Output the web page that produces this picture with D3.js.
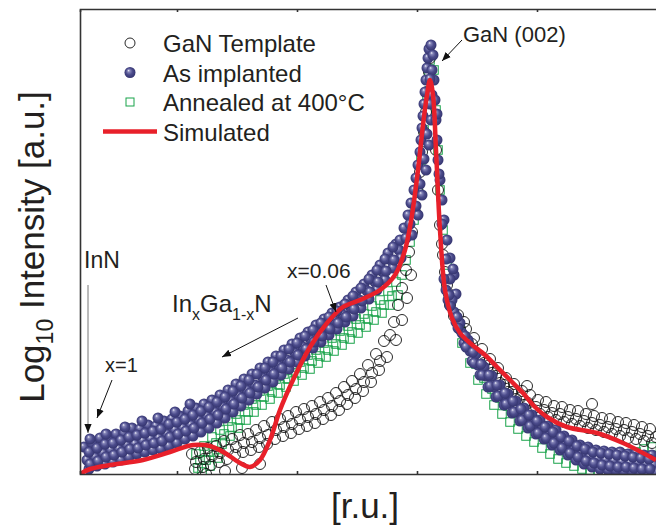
<!DOCTYPE html>
<html>
<head>
<meta charset="utf-8">
<script src="https://cdn.jsdelivr.net/npm/d3@7/dist/d3.min.js"></script>
<style>
	body { margin:0; background:#fff; }
	svg { display:block; font-family:"Liberation Sans", Arial, sans-serif; }
</style>
</head>
<body>
<div id="chart"></div>
<script>

// values: x in r.u., y in log10 intensity (a.u.)
const gaNTemplate = [
	[1.12,.20],[1.15,.05],[1.20,.22],[1.23,.07],[1.28,.26],[1.31,.09],[1.36,.28],[1.39,.12],
	[1.44,.33],[1.47,.15],[1.52,.35],[1.55,.19],[1.60,.39],[1.63,.22],[1.68,.40],[1.71,.24],
	[1.76,.44],[1.79,.27],[1.84,.48],[1.87,.30],[1.92,.52],[1.95,.35],[2.00,.55],[2.03,.38],
	[2.08,.58],[2.11,.41],[2.16,.62],[2.19,.45],[2.24,.65],[2.27,.48],[2.32,.68],[2.35,.51],
	[2.40,.72],[2.43,.55],[2.48,.76],[2.51,.59],[2.56,.81],[2.59,.64],[2.64,.87],[2.67,.70],
	[2.72,.93],[2.75,.76],[2.80,1.00],[2.83,.83],[2.88,1.09],[2.91,.92],[2.96,1.20],[2.99,1.04],
	[3.04,1.33],[3.07,1.17],[3.10,1.39],[3.14,1.52],[3.18,1.69],[3.22,1.86],[3.26,2.04],
	[3.29,2.22],[3.32,2.42],[3.35,2.62],[3.38,2.82],[3.40,3.02],[3.42,3.22],[3.44,3.42],
	[3.46,3.62],[3.47,3.82],[3.49,4.02],[3.50,4.16],[3.16,1.34],[3.22,1.54],[3.27,1.76],[3.31,1.99],
	[1.16,.12],[1.24,.15],[1.32,.18],[1.40,.21],[1.48,.24],[1.56,.27],[1.64,.31],[1.72,.32],
	[1.80,.36],[1.88,.39],[1.96,.44],[2.04,.47],[2.12,.50],[2.20,.54],[2.28,.57],[2.36,.60],
	[2.44,.64],[2.52,.68],[2.60,.73],[2.68,.79],[2.76,.85],[2.84,.92],[2.92,1.01],[3.00,1.13],
	[1.26,.00],[1.45,.03],[1.62,.06],[1.80,.10],
	[3.56,3.24],[3.58,2.84],[3.60,2.49],[3.63,2.19],[3.67,1.89],[3.70,1.69],
	[3.62,2.30],[3.65,2.02],[3.69,1.80],[3.74,1.58],
	[3.78,1.59],[3.80,1.45],[3.86,1.45],[3.88,1.31],[3.94,1.36],[3.96,1.21],[4.02,1.25],[4.04,1.11],
	[4.10,1.15],[4.12,1.01],[4.18,1.06],[4.20,.91],[4.26,.96],[4.28,.82],[4.34,.90],[4.36,.75],
	[4.42,.83],[4.44,.69],[4.47,.88],[4.50,.79],[4.52,.64],[4.58,.74],[4.60,.60],[4.66,.72],[4.68,.57],
	[4.74,.68],[4.76,.54],[4.82,.67],[4.84,.52],[4.90,.64],[4.92,.50],[4.98,.63],[5.00,.48],
	[5.06,.60],[5.08,.46],[5.12,.70],[5.14,.58],[5.16,.44],[5.22,.56],[5.24,.42],[5.30,.55],[5.32,.40],
	[5.38,.52],[5.40,.38],[5.46,.51],[5.48,.36],[5.54,.49],[5.56,.35],[5.62,.47],[5.64,.33],
	[5.70,.45],[5.72,.31],
	[3.84,1.52],[3.92,1.30],[4.00,1.18],[4.08,1.08],[4.16,.98],[4.24,.89],[4.32,.82],[4.40,.76],
	[4.48,.71],[4.56,.67],[4.64,.64],[4.72,.61],[4.80,.60],[4.88,.57],[4.96,.55],[5.04,.53],
	[5.12,.51],[5.20,.49],[5.28,.47],[5.36,.45],[5.44,.44],[5.52,.42],[5.60,.40],[5.68,.38],[5.76,.37]
];

const asImplanted = [
	[.04,.27],[.07,.14],[.09,.05],[.12,.31],[.15,.17],[.17,.08],[.20,.36],[.23,.21],[.25,.10],
	[.28,.35],[.31,.24],[.33,.12],[.36,.40],[.39,.25],[.41,.14],[.44,.41],[.47,.29],[.49,.17],
	[.52,.46],[.55,.30],[.57,.20],[.60,.45],[.63,.33],[.65,.22],[.68,.49],[.71,.35],[.73,.24],
	[.76,.48],[.79,.36],[.81,.25],[.84,.53],[.87,.40],[.89,.28],[.92,.55],[.95,.44],[.97,.31],
	[1.00,.58],[1.03,.46],[1.05,.35],[1.08,.63],[1.11,.49],[1.13,.38],[1.16,.66],[1.19,.54],[1.21,.42],
	[1.24,.70],[1.27,.58],[1.29,.46],[1.32,.74],[1.35,.62],[1.37,.51],[1.40,.79],[1.43,.67],[1.45,.56],
	[1.48,.84],[1.51,.73],[1.53,.62],[1.56,.90],[1.59,.78],[1.61,.68],[1.64,.95],[1.67,.84],[1.69,.74],
	[1.72,1.00],[1.75,.89],[1.77,.80],[1.80,1.06],[1.83,.96],[1.85,.86],[1.88,1.12],[1.91,1.02],[1.93,.92],
	[1.96,1.18],[1.99,1.08],[2.01,.99],[2.04,1.24],[2.07,1.14],[2.09,1.05],[2.12,1.30],[2.15,1.21],[2.17,1.12],
	[2.20,1.36],[2.23,1.27],[2.25,1.18],[2.28,1.42],[2.31,1.34],[2.33,1.26],[2.36,1.49],[2.39,1.40],[2.41,1.32],
	[2.44,1.55],[2.47,1.47],[2.49,1.39],[2.52,1.61],[2.55,1.53],[2.57,1.45],[2.60,1.67],[2.63,1.59],[2.65,1.52],
	[2.68,1.74],[2.71,1.66],[2.73,1.58],[2.76,1.82],[2.79,1.74],[2.81,1.66],[2.84,1.90],[2.87,1.83],[2.89,1.75],
	[2.92,1.99],[2.95,1.92],[2.97,1.84],[3.00,2.09],[3.03,2.02],[3.05,1.94],[3.08,2.21],[3.11,2.14],[3.13,2.06],
	[3.16,2.30],[3.19,2.24],[3.21,2.16],
	[.09,.22],[.10,.10],[.17,.26],[.18,.13],[.25,.30],[.26,.17],[.33,.31],[.34,.19],[.41,.34],[.42,.22],
	[.49,.37],[.50,.25],[.57,.39],[.58,.26],[.65,.41],[.66,.29],[.73,.43],[.74,.31],[.81,.45],[.82,.33],
	[.89,.50],[.90,.37],[.97,.52],[.98,.40],[1.05,.55],[1.06,.43],[1.13,.59],[1.14,.46],[1.21,.63],[1.22,.51],
	[1.29,.67],[1.30,.55],[1.37,.72],[1.38,.59],[1.45,.77],[1.46,.65],[1.53,.83],[1.54,.70],[1.61,.88],[1.62,.76],
	[1.69,.94],[1.70,.81],[1.77,1.00],[1.78,.87],[1.85,1.06],[1.86,.94],[1.93,1.12],[1.94,1.00],[2.01,1.18],[2.02,1.06],
	[2.09,1.25],[2.10,1.12],[2.17,1.31],[2.18,1.19],[2.25,1.38],[2.26,1.25],[2.33,1.44],[2.34,1.32],[2.41,1.51],[2.42,1.38],
	[2.49,1.57],[2.50,1.45],[2.57,1.63],[2.58,1.51],[2.65,1.70],[2.66,1.57],[2.73,1.78],[2.74,1.65],[2.81,1.86],[2.82,1.73],
	[2.89,1.95],[2.90,1.82],[2.97,2.04],[2.98,1.92],[3.05,2.15],[3.06,2.03],[3.13,2.27],[3.14,2.14],
	[.10,.35],[.26,.40],[.45,.47],[.62,.53],[.78,.56],[.95,.62],[1.10,.70],
	[3.20,2.34],[3.24,2.46],[3.28,2.59],[3.31,2.71],[3.34,2.84],[3.36,2.96],[3.38,3.09],[3.40,3.22],
	[3.41,3.34],[3.42,3.46],[3.43,3.58],[3.44,3.70],[3.45,3.82],[3.46,3.94],[3.47,4.06],[3.48,4.16],
	[3.49,4.25],[3.51,4.29],[3.32,2.39],[3.38,2.59],[3.42,2.79],[3.46,3.04],[3.49,3.29],[3.51,3.54],
	[3.52,3.79],[3.52,4.04],[3.53,4.19],[3.54,3.94],[3.55,3.74],[3.56,3.54],[3.57,3.34],[3.58,3.14],
	[3.60,2.94],[3.62,2.74],[3.64,2.54],[3.67,2.34],[3.70,2.16],[3.74,1.99],
	[3.26,2.36],[3.30,2.50],[3.36,2.68],[3.40,2.90],[3.44,3.15],[3.47,3.40],[3.50,3.70],[3.50,3.95],
	[3.57,3.60],[3.59,3.00],[3.62,2.50],[3.66,2.15],[3.70,1.95],[3.76,1.80],[3.73,2.05],
	[3.64,1.95],[3.66,1.84],[3.68,1.74],[3.72,1.74],[3.74,1.62],[3.76,1.52],[3.80,1.51],[3.82,1.41],[3.84,1.31],
	[3.88,1.34],[3.90,1.23],[3.92,1.13],[3.96,1.20],[3.98,1.09],[4.00,.99],[4.04,1.07],[4.06,.98],[4.08,.87],
	[4.12,.98],[4.14,.87],[4.16,.77],[4.20,.89],[4.22,.78],[4.24,.69],[4.28,.80],[4.30,.71],[4.32,.61],
	[4.36,.73],[4.38,.62],[4.40,.53],[4.44,.66],[4.46,.55],[4.48,.46],[4.52,.59],[4.54,.50],[4.56,.40],
	[4.60,.54],[4.62,.43],[4.64,.35],[4.68,.48],[4.70,.39],[4.72,.29],[4.76,.44],[4.78,.33],[4.80,.24],
	[4.84,.38],[4.86,.29],[4.88,.19],[4.92,.34],[4.94,.24],[4.96,.14],[5.00,.29],[5.02,.20],[5.04,.10],
	[5.08,.27],[5.10,.17],[5.12,.07],[5.16,.24],[5.18,.15],[5.20,.05],[5.24,.23],[5.26,.14],[5.28,.04],
	[5.32,.22],[5.34,.13],[5.36,.04],[5.40,.22],[5.42,.12],[5.44,.03],[5.48,.20],[5.50,.11],[5.52,.03],
	[5.56,.21],[5.58,.11],[5.60,.02],[5.64,.19],[5.66,.10],[5.68,.02],[5.72,.19],[5.74,.09],[5.76,.02],
	[3.69,1.79],[3.70,1.68],[3.77,1.57],[3.78,1.46],[3.85,1.38],[3.86,1.27],[3.93,1.22],[3.94,1.11],
	[4.01,1.10],[4.02,.99],[4.09,.99],[4.10,.88],[4.17,.89],[4.18,.78],[4.25,.81],[4.26,.70],
	[4.33,.73],[4.34,.62],[4.41,.65],[4.42,.54],[4.49,.59],[4.50,.48],[4.57,.53],[4.58,.41],
	[4.65,.47],[4.66,.36],[4.73,.42],[4.74,.31],[4.81,.37],[4.82,.26],[4.89,.33],[4.90,.21],
	[4.97,.28],[4.98,.17],[5.05,.25],[5.06,.13],[5.13,.22],[5.14,.11],[5.21,.21],[5.22,.09],
	[5.29,.20],[5.30,.08],[5.37,.19],[5.38,.07],[5.45,.18],[5.46,.07],[5.53,.17],[5.54,.06],
	[5.61,.16],[5.62,.05],[5.69,.15],[5.70,.05]
];

const annealed = [
	[1.16,.20],[1.18,.06],[1.24,.28],[1.26,.14],[1.32,.37],[1.34,.22],[1.40,.44],[1.42,.30],
	[1.48,.53],[1.50,.38],[1.56,.60],[1.58,.46],[1.64,.69],[1.66,.54],[1.72,.75],[1.74,.62],
	[1.80,.83],[1.82,.69],[1.88,.88],[1.90,.75],[1.96,.95],[1.98,.81],[2.04,1.00],[2.06,.87],
	[2.12,1.07],[2.14,.93],[2.20,1.12],[2.22,.99],[2.28,1.19],[2.30,1.05],[2.36,1.24],[2.38,1.11],
	[2.44,1.31],[2.46,1.17],[2.52,1.36],[2.54,1.23],[2.60,1.43],[2.62,1.29],[2.68,1.48],[2.70,1.35],
	[2.76,1.55],[2.78,1.41],[2.84,1.60],[2.86,1.47],[2.92,1.68],[2.94,1.54],[3.00,1.74],[3.02,1.61],
	[3.08,1.83],[3.10,1.69],[3.16,1.92],[3.18,1.79],
	[1.20,.14],[1.28,.22],[1.36,.31],[1.44,.40],[1.52,.47],[1.60,.54],[1.68,.62],[1.76,.69],
	[1.84,.77],[1.92,.82],[2.00,.89],[2.08,.95],[2.16,1.01],[2.24,1.06],[2.32,1.13],[2.40,1.18],
	[2.48,1.24],[2.56,1.30],[2.64,1.36],[2.72,1.42],[2.80,1.49],[2.88,1.55],[2.96,1.62],[3.04,1.69],[3.12,1.78],
	[1.22,.02],[1.30,.08],[1.38,.16],
	[3.22,1.99],[3.26,2.14],[3.30,2.32],[3.34,2.54],[3.38,2.84],[3.41,3.14],[3.44,3.44],[3.47,3.74],
	[3.49,3.99],[3.50,4.14],[3.54,4.04],[3.56,3.64],[3.58,3.24],[3.60,2.84],[3.63,2.44],[3.67,2.09],[3.72,1.79],
	[3.80,1.47],[3.82,1.31],[3.88,1.27],[3.90,1.11],[3.96,1.10],[3.98,.94],[4.04,.96],[4.06,.80],
	[4.12,.85],[4.14,.69],[4.20,.76],[4.22,.60],[4.28,.68],[4.30,.52],[4.36,.61],[4.38,.45],
	[4.44,.54],[4.46,.38],[4.52,.48],[4.54,.32],[4.60,.42],[4.62,.26],[4.68,.36],[4.70,.20],
	[4.76,.31],[4.78,.15],[4.84,.27],[4.86,.11],[4.92,.24],[4.94,.08],[5.00,.21],[5.02,.05],
	[5.08,.19],[5.10,.04],[5.16,.18],[5.18,.03],[5.24,.17],[5.26,.03],[5.32,.17],[5.34,.03],
	[5.40,.18],[5.42,.04],[5.48,.20],[5.50,.06],[5.56,.22],[5.58,.08],[5.64,.25],[5.66,.10],
	[5.72,.27],[5.74,.12]
];

const simulated = [
	[0,0],[.10,.05],[.30,.09],[.63,.14],[.90,.22],[1.13,.29],[1.30,.28],[1.45,.21],[1.60,.11],
	[1.70,.07],[1.80,.14],[1.90,.34],[2.00,.64],[2.13,.94],[2.30,1.27],[2.47,1.51],[2.63,1.67],
	[2.80,1.74],[3.00,1.84],[3.15,1.99],[3.25,2.24],[3.32,2.59],[3.38,3.04],[3.43,3.49],[3.47,3.79],
	[3.50,3.94],[3.53,3.79],[3.56,3.24],[3.60,2.44],[3.65,1.84],[3.72,1.56],[3.80,1.41],[3.90,1.31],
	[4.05,1.19],[4.17,1.07],[4.30,.94],[4.43,.81],[4.55,.67],[4.67,.57],[4.87,.47],[5.17,.41],
	[5.43,.31],[5.76,.14]
];

const xTicks = [0.97, 2.17, 3.37, 4.57];
const legendLabels = ['GaN Template', 'As implanted', 'Annealed at 400°C', 'Simulated'];

const W = 656, H = 526;
const margin = {t:9, l:80};
const w = 578, h = 465;

const svg = d3.select('#chart').append('svg')
	.attr('width', W)
	.attr('height', H);

const defs = svg.append('defs');
const grad = defs.append('radialGradient')
	.attr('id', 'sphere')
	.attr('cx', '50%').attr('cy', '50%').attr('r', '55%')
	.attr('fx', '35%').attr('fy', '30%');
grad.append('stop').attr('offset', '0%').attr('stop-color', '#f2f2fa');
grad.append('stop').attr('offset', '22%').attr('stop-color', '#8585b8');
grad.append('stop').attr('offset', '55%').attr('stop-color', '#4c4c8c');
grad.append('stop').attr('offset', '100%').attr('stop-color', '#30306a');

defs.append('clipPath').attr('id', 'clip')
	.append('rect').attr('width', w).attr('height', h);

const plot = svg.append('g')
	.attr('transform', `translate(${margin.l},${margin.t})`);

const scaleX = d3.scaleLinear().domain([0, 5.78]).range([0, w]);
const scaleY = d3.scaleLinear().domain([0, 4.65]).range([h, 0]);

////////////////////////////////////////////////////////////////////

const data = plot.append('g').attr('clip-path', 'url(#clip)');

data.selectAll('.sq')
	.data(annealed)
	.enter().append('rect')
	.attr('class', 'sq')
	.attr('x', d => scaleX(d[0]) - 4.25)
	.attr('y', d => scaleY(d[1]) - 4.25)
	.attr('width', 8.5)
	.attr('height', 8.5)
	.attr('fill', 'none')
	.attr('stroke', '#19a34a')
	.attr('stroke-width', 1);

data.selectAll('.open')
	.data(gaNTemplate)
	.enter().append('circle')
	.attr('class', 'open')
	.attr('cx', d => scaleX(d[0]))
	.attr('cy', d => scaleY(d[1]))
	.attr('r', 5.5)
	.attr('fill', 'none')
	.attr('stroke', '#111')
	.attr('stroke-width', 0.9);

data.selectAll('.ball')
	.data(asImplanted)
	.enter().append('circle')
	.attr('class', 'ball')
	.attr('cx', d => scaleX(d[0]))
	.attr('cy', d => scaleY(d[1]))
	.attr('r', 5.5)
	.attr('fill', 'url(#sphere)');

const line = d3.line()
	.x(d => scaleX(d[0]))
	.y(d => scaleY(d[1]))
	.curve(d3.curveCatmullRom.alpha(0.5));

data.append('path')
	.datum(simulated)
	.attr('d', line)
	.attr('fill', 'none')
	.attr('stroke', '#e8202a')
	.attr('stroke-width', 4.5);

////////////////////////////////////////////////////////////////////

const axisTop = d3.axisTop(scaleX).tickValues(xTicks).tickSize(-3).tickFormat('');
plot.append('g').attr('class', 'axis').call(axisTop);
const axisBottom = d3.axisBottom(scaleX).tickValues(xTicks).tickSize(-3).tickFormat('');
plot.append('g').attr('class', 'axis').attr('transform', `translate(0,${h})`).call(axisBottom);
const axisLeft = d3.axisLeft(scaleY).tickValues([]).tickSize(0);
plot.append('g').attr('class', 'axis').call(axisLeft);

plot.selectAll('.axis path, .axis line')
	.attr('stroke', '#333')
	.attr('stroke-width', 1.6);

////////////////////////////////////////////////////////////////////

const legend = svg.append('g');
const rowY = d => 43 + d*29.5;
legend.append('circle').attr('cx', 130).attr('cy', rowY(0)).attr('r', 5)
	.attr('fill', 'none').attr('stroke', '#111').attr('stroke-width', 0.9);
legend.append('circle').attr('cx', 130).attr('cy', rowY(1)).attr('r', 5.5)
	.attr('fill', 'url(#sphere)');
legend.append('rect').attr('x', 126).attr('y', rowY(2) - 4).attr('width', 8).attr('height', 8)
	.attr('fill', 'none').attr('stroke', '#19a34a').attr('stroke-width', 1);
legend.append('line').attr('x1', 103).attr('x2', 157).attr('y1', rowY(3)).attr('y2', rowY(3))
	.attr('stroke', '#e8202a').attr('stroke-width', 4.5);
legend.selectAll('text')
	.data(legendLabels)
	.enter().append('text')
	.attr('x', 163)
	.attr('y', (d, i) => rowY(i) + 9)
	.attr('font-size', 24)
	.attr('fill', '#231f20')
	.text(d => d);

////////////////////////////////////////////////////////////////////

defs.append('marker')
	.attr('id', 'head')
	.attr('viewBox', '0 0 10 10')
	.attr('refX', 10).attr('refY', 5)
	.attr('markerWidth', 9).attr('markerHeight', 9)
	.attr('markerUnits', 'userSpaceOnUse')
	.attr('orient', 'auto')
	.append('path').attr('d', 'M0,1 L10,5 L0,9 Z').attr('fill', '#111');

const arrows = [
	{x1:462, y1:40, x2:442, y2:61, c:'#111'},
	{x1:88, y1:285, x2:88, y2:433, c:'#777'},
	{x1:112, y1:380, x2:97, y2:418, c:'#111'},
	{x1:298, y1:318, x2:222, y2:357, c:'#111'},
	{x1:326, y1:285, x2:336, y2:312, c:'#111'}
];
svg.selectAll('.arrow')
	.data(arrows)
	.enter().append('line')
	.attr('class', 'arrow')
	.attr('x1', d => d.x1).attr('y1', d => d.y1)
	.attr('x2', d => d.x2).attr('y2', d => d.y2)
	.attr('stroke', d => d.c)
	.attr('stroke-width', 1)
	.attr('marker-end', 'url(#head)');

const note = (x, y, s, t) => svg.append('text')
	.attr('x', x).attr('y', y).attr('font-size', s).attr('fill', '#231f20').text(t);
note(463, 42, 22, 'GaN (002)');
note(84, 268, 23, 'InN');
note(105, 372, 20, 'x=1');
note(287, 278, 21, 'x=0.06');

const ingan = svg.append('text').attr('x', 172).attr('y', 312)
	.attr('font-size', 24).attr('fill', '#231f20');
ingan.append('tspan').text('In');
ingan.append('tspan').attr('dy', 8).attr('font-size', 16).text('x');
ingan.append('tspan').attr('dy', -8).text('Ga');
ingan.append('tspan').attr('dy', 8).attr('font-size', 16).text('1-x');
ingan.append('tspan').attr('dy', -8).text('N');

////////////////////////////////////////////////////////////////////

const ylab = svg.append('text')
	.attr('transform', 'translate(44,247) rotate(-90)')
	.attr('text-anchor', 'middle')
	.attr('font-size', 35)
	.attr('fill', '#231f20');
ylab.append('tspan').text('Log');
ylab.append('tspan').attr('dy', 9).attr('font-size', 23).text('10');
ylab.append('tspan').attr('dy', -9).text(' Intensity [a.u.]');

svg.append('text')
	.attr('x', 365).attr('y', 518)
	.attr('text-anchor', 'middle')
	.attr('font-size', 35)
	.attr('fill', '#231f20')
	.text('[r.u.]');

</script>
</body>
</html>
